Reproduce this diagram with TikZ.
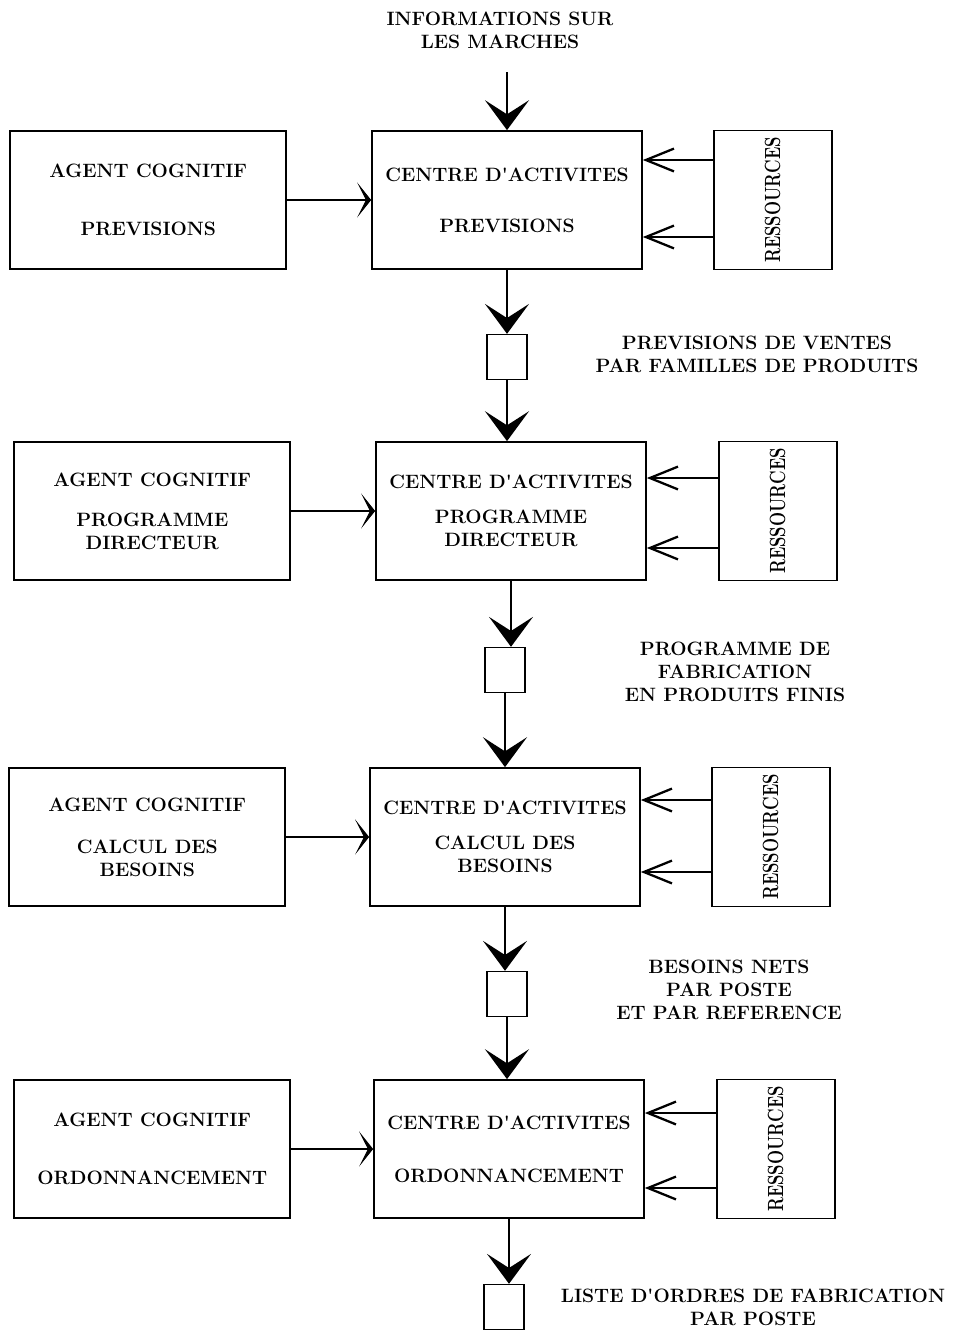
\documentclass[tikz,border=0pt]{standalone}
\usepackage{tikz}
\usetikzlibrary{arrows.meta, positioning}

\newcommand{\apos}{\textquotesingle}
\newcommand{\restext}{\rotatebox{90}{\fontsize{12.5}{14}\selectfont\scalebox{0.76}[1]{RESSOURCES}}}

\begin{document}
\begin{tikzpicture}[
		x=0.02cm, y=-0.02cm,
		font=\bfseries\fontsize{11}{13}\selectfont,
		box/.style={rectangle, draw, line width=1pt, align=center},
		agent/.style={box, minimum width=5.52cm, minimum height=2.76cm},
		centre/.style={box, minimum width=5.4cm, minimum height=2.76cm},
		res/.style={box, minimum width=2.36cm, minimum height=2.78cm, inner sep=1pt},
		store/.style={rectangle, draw, line width=0.8pt, minimum width=0.8cm, minimum height=0.9cm},
		label/.style={align=center},
		flow/.style={line width=1.4pt, -{Stealth[length=17pt, width=25pt, inset=8pt]}},
		feed/.style={line width=0.6pt, -{Straight Barb[length=16pt, width=13pt, line width=1.3pt]}},
		link/.style={line width=0.6pt, -{Stealth[length=8pt, width=20pt, inset=5pt]}}
		]
		
		\useasboundingbox (0,0) rectangle (959,1331);
		
		% Input
		\node[label] (info) at (500,30) {INFORMATIONS SUR\\LES MARCHES};
		
		% Row 1 - previsions
		\node[centre] (ctr1) at (507,200) {CENTRE D\apos ACTIVITES\\[16pt]PREVISIONS};
		\node[agent, left=1.68cm of ctr1] (ag1) {AGENT COGNITIF\\[20pt]PREVISIONS};
		\node[res, right=1.4cm of ctr1] (rs1) {\restext};
		\node[store, below=1.28cm of ctr1] (sq1) {};
		\node[label] (lab1) at (757,354) {PREVISIONS DE VENTES\\PAR FAMILLES DE PRODUITS};
		
		% Row 2 - programme directeur
		\node[centre] (ctr2) at (511,511) {CENTRE D\apos ACTIVITES\\[7pt]PROGRAMME\\DIRECTEUR};
		\node[agent, left=1.68cm of ctr2] (ag2) {AGENT COGNITIF\\[10pt]PROGRAMME\\DIRECTEUR};
		\node[res, right=1.42cm of ctr2] (rs2) {\restext};
		\node[store] (sq2) at (505,670) {};
		\node[label] (lab2) at (735,672) {PROGRAMME DE\\FABRICATION\\EN PRODUITS FINIS};
		
		% Row 3 - calcul des besoins
		\node[centre] (ctr3) at (505,837) {CENTRE D\apos ACTIVITES\\[7pt]CALCUL DES\\BESOINS};
		\node[agent, left=1.66cm of ctr3] (ag3) {AGENT COGNITIF\\[11pt]CALCUL DES\\BESOINS};
		\node[res, right=1.4cm of ctr3] (rs3) {\restext};
		\node[store] (sq3) at (507,994) {};
		\node[label] (lab3) at (729,990) {BESOINS NETS\\PAR POSTE\\ET PAR REFERENCE};
		
		% Row 4 - ordonnancement
		\node[centre] (ctr4) at (509,1149) {CENTRE D\apos ACTIVITES\\[17pt]ORDONNANCEMENT};
		\node[agent, left=1.64cm of ctr4] (ag4) {AGENT COGNITIF\\[20pt]ORDONNANCEMENT};
		\node[res, right=1.42cm of ctr4] (rs4) {\restext};
		\node[store] (sq4) at (504,1307) {};
		\node[label] (lab4) at (753,1307) {LISTE D\apos ORDRES DE FABRICATION\\PAR POSTE};
		
		% Main flow
		\draw[flow, shorten <=10pt] (info.south -| ctr1.north) -- (ctr1.north);
		\draw[flow] (ctr1.south) -- (ctr1.south |- sq1.north);
		\draw[flow] (sq1.south) -- (sq1.south |- ctr2.north);
		\draw[flow] (ctr2.south) -- (ctr2.south |- sq2.north);
		\draw[flow] (sq2.south) -- (sq2.south |- ctr3.north);
		\draw[flow] (ctr3.south) -- (ctr3.south |- sq3.north);
		\draw[flow] (sq3.south) -- (sq3.south |- ctr4.north);
		\draw[flow] (ctr4.south) -- (ctr4.south |- sq4.north);
		
		% Agents
		\draw[link] (ag1) -- (ctr1);
		\draw[link] (ag2) -- (ctr2);
		\draw[link] (ag3) -- (ctr3);
		\draw[link] (ag4) -- (ctr4);
		
		% Resources
		\draw[feed] ([yshift=0.8cm]rs1.west) -- ([yshift=0.8cm]ctr1.east);
		\draw[feed] ([yshift=-0.74cm]rs1.west) -- ([yshift=-0.74cm]ctr1.east);
		\draw[feed] ([yshift=0.66cm]rs2.west) -- ([yshift=0.66cm]ctr2.east);
		\draw[feed] ([yshift=-0.74cm]rs2.west) -- ([yshift=-0.74cm]ctr2.east);
		\draw[feed] ([yshift=0.74cm]rs3.west) -- ([yshift=0.74cm]ctr3.east);
		\draw[feed] ([yshift=-0.7cm]rs3.west) -- ([yshift=-0.7cm]ctr3.east);
		\draw[feed] ([yshift=0.72cm]rs4.west) -- ([yshift=0.72cm]ctr4.east);
		\draw[feed] ([yshift=-0.78cm]rs4.west) -- ([yshift=-0.78cm]ctr4.east);
		
	\end{tikzpicture}
\end{document}
